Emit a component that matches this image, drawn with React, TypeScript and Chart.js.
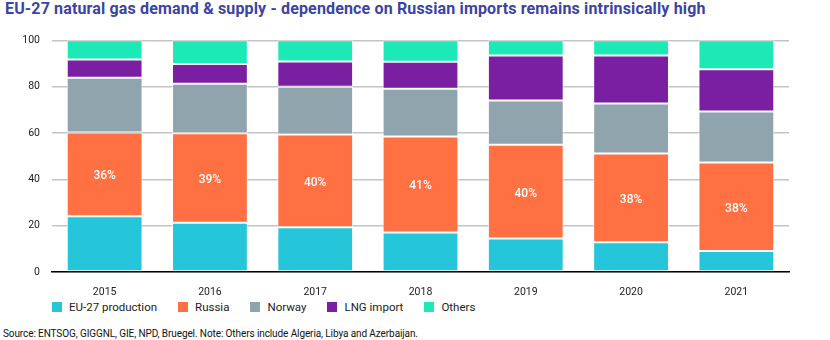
import React, { useEffect, useRef } from "react";
import { Chart, registerables } from "chart.js";

Chart.register(...registerables);

const years = ["2015", "2016", "2017", "2018", "2019", "2020", "2021"];
const euProduction = [24.1, 21.3, 19.3, 17.1, 14.5, 12.8, 9.1];
const russia = [36.1, 38.6, 40.0, 41.4, 40.4, 38.3, 38.2];
const norway = [23.6, 21.4, 20.7, 20.6, 19.1, 21.6, 22.0];
const lngImport = [7.9, 8.5, 10.8, 11.6, 19.4, 20.7, 18.2];
const others = [8.3, 10.2, 9.2, 9.3, 6.6, 6.6, 12.5];
const yTicks = [0, 20, 40, 60, 80, 100];

const seriesNames = ["EU-27 production", "Russia", "Norway", "LNG import", "Others"];
const seriesColors = ["#26C6DA", "#FF7043", "#90A4AE", "#7B1FA2", "#1DE9B6"];

const FONT = "Roboto, 'Noto Sans', sans-serif";

const russiaLabelPlugin = {
  id: "russiaLabels",
  afterDatasetsDraw(chart: any) {
    const meta = chart.getDatasetMeta(1);
    const ctx = chart.ctx;
    ctx.save();
    ctx.fillStyle = "#ffffff";
    ctx.font = `500 12px ${FONT}`;
    ctx.textAlign = "center";
    ctx.textBaseline = "middle";
    meta.data.forEach((bar: any, i: number) => {
      const { x, y, base } = bar.getProps(["x", "y", "base"], true);
      ctx.fillText(`${Math.round(russia[i])}%`, x, (y + base) / 2 + 2);
    });
    ctx.restore();
  },
};

export default function App() {
  const canvasRef = useRef<HTMLCanvasElement | null>(null);

  useEffect(() => {
    if (!canvasRef.current) return;
    const seriesData = [euProduction, russia, norway, lngImport, others];
    const chart = new Chart(canvasRef.current, {
      type: "bar",
      data: {
        labels: years,
        datasets: seriesNames.map((name, i) => ({
          label: name,
          data: seriesData[i],
          backgroundColor: seriesColors[i],
          borderColor: "rgba(255,255,255,0.65)",
          borderWidth: 1,
          borderSkipped: false,
          categoryPercentage: 1,
          barPercentage: 0.72,
        })),
      },
      options: {
        animation: false,
        responsive: false,
        maintainAspectRatio: false,
        layout: { padding: { left: 0, right: 41, top: 6, bottom: 0 } },
        plugins: {
          legend: { display: false },
          tooltip: { enabled: false },
          title: { display: false },
        },
        scales: {
          x: {
            stacked: true,
            afterFit: (scale: any) => {
              scale.height = 26;
            },
            grid: { display: false },
            border: { display: true, color: "#000000", width: 1.5 },
            ticks: {
              color: "#222222",
              font: { family: FONT, size: 10.5 },
              padding: 6,
            },
          },
          y: {
            stacked: true,
            min: 0,
            max: 100,
            afterFit: (scale: any) => {
              scale.width = 52;
            },
            afterBuildTicks: (scale: any) => {
              scale.ticks = yTicks.map((v) => ({ value: v }));
            },
            grid: {
              color: "#c4c4c4",
              lineWidth: 1.5,
              drawTicks: false,
            },
            border: { display: false },
            ticks: {
              color: "#222222",
              font: { family: FONT, size: 10.5 },
              padding: 12,
            },
          },
        },
      },
      plugins: [russiaLabelPlugin],
    });
    return () => chart.destroy();
  }, []);

  return (
    <div
      style={{
        position: "fixed",
        left: 0,
        top: 0,
        width: 830,
        height: 340,
        background: "#ffffff",
        fontFamily: FONT,
        overflow: "hidden",
      }}
    >
      <div
        style={{
          position: "absolute",
          left: 5,
          top: 0,
          fontSize: 16,
          lineHeight: "18px",
          fontWeight: 700,
          color: "#3b44a3",
          letterSpacing: "0.15px",
          whiteSpace: "nowrap",
        }}
      >
        EU-27 natural gas demand &amp; supply - dependence on Russian imports remains intrinsically high
      </div>
      <canvas
        ref={canvasRef}
        width={830}
        height={276}
        style={{ position: "absolute", left: 0, top: 22, width: 830, height: 276 }}
      />
      <div
        style={{
          position: "absolute",
          left: 52,
          top: 299,
          height: 16,
          display: "flex",
          alignItems: "center",
          fontSize: 11.5,
          color: "#222222",
          whiteSpace: "nowrap",
        }}
      >
        {seriesNames.map((name, i) => (
          <div key={name} style={{ display: "flex", alignItems: "center", marginRight: 21 }}>
            <span
              style={{
                display: "inline-block",
                width: 10,
                height: 10,
                background: seriesColors[i],
                marginRight: 7,
              }}
            />
            <span>{name}</span>
          </div>
        ))}
      </div>
      <div
        style={{
          position: "absolute",
          left: 3,
          top: 328,
          fontSize: 10,
          lineHeight: "12px",
          color: "#111111",
          letterSpacing: "-0.1px",
          whiteSpace: "nowrap",
        }}
      >
        Source: ENTSOG, GIGGNL, GIE, NPD, Bruegel. Note: Others include Algeria, Libya and Azerbaijan.
      </div>
    </div>
  );
}
